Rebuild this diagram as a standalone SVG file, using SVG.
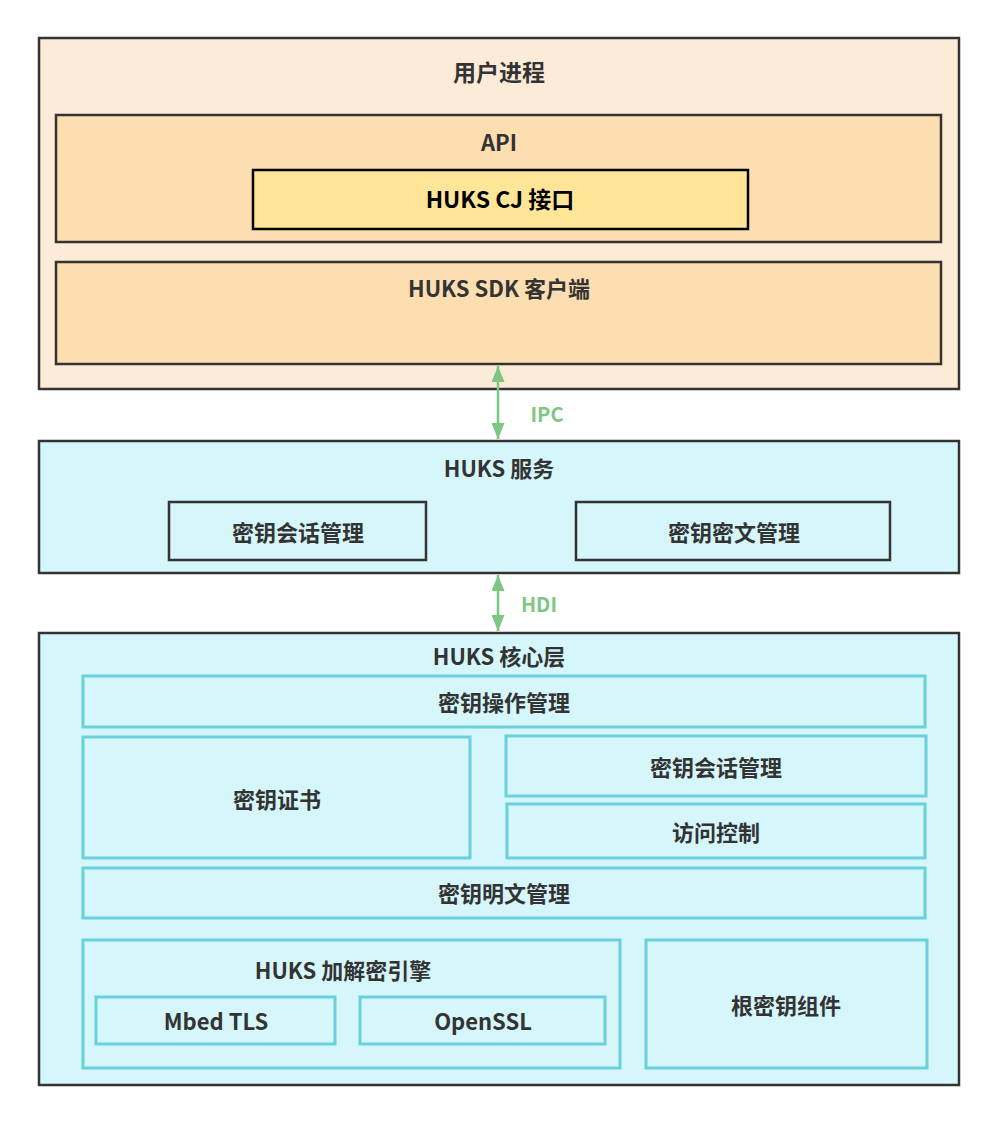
<svg xmlns="http://www.w3.org/2000/svg" width="998" height="1125" viewBox="0 0 998 1125">
<style>
text{font-family:"Noto Sans CJK SC","Noto Sans",sans-serif;font-weight:bold;font-size:22px;fill:#333;text-anchor:middle;dominant-baseline:central}
.outer{stroke:#333;stroke-width:2.5}
.dark{stroke:#333;stroke-width:2.5}
.cyan{fill:#d5f6fa;stroke:#6ad0dc;stroke-width:3}
</style>
<defs>
<marker id="ah" viewBox="0 0 10 10" refX="10" refY="5" markerWidth="16" markerHeight="13" orient="auto-start-reverse" markerUnits="userSpaceOnUse" preserveAspectRatio="none">
<path d="M0,0 L10,5 L0,10 z" fill="#7dc783"/>
</marker>
</defs>
<rect width="998" height="1125" fill="#fff"/>
<g id="user-process">
<rect class="outer" x="39" y="38" width="920" height="351" fill="#fcebd7"/>
<text x="499" y="71" style="font-size:23px">用户进程</text>
</g>
<g id="api">
<rect class="dark" x="56" y="115" width="885" height="127" fill="#fddeb0"/>
<text x="499" y="141">API</text>
</g>
<g id="cj">
<rect x="253" y="170" width="495" height="59" fill="#ffe598" stroke="#000" stroke-width="2.5"/>
<text x="500" y="198" style="fill:#000;font-size:23px">HUKS CJ 接口</text>
</g>
<g id="sdk">
<rect class="dark" x="56" y="262" width="885" height="102" fill="#fddeb0"/>
<text x="499" y="287">HUKS SDK 客户端</text>
</g>
<g id="service">
<rect class="outer" x="39" y="441" width="920" height="132" fill="#d5f6fa"/>
<text x="499" y="467">HUKS 服务</text>
</g>
<g id="svc-session">
<rect class="dark" x="169" y="502" width="257" height="58" fill="#d5f6fa"/>
<text x="298" y="531">密钥会话管理</text>
</g>
<g id="svc-cipher">
<rect class="dark" x="576" y="502" width="314" height="58" fill="#d5f6fa"/>
<text x="734" y="531">密钥密文管理</text>
</g>
<g id="core">
<rect class="outer" x="39" y="633" width="920" height="452" fill="#d5f6fa"/>
<text x="499" y="655">HUKS 核心层</text>
</g>
<g id="op-mgmt">
<rect class="cyan" x="83" y="676" width="842" height="51"/>
<text x="504" y="701">密钥操作管理</text>
</g>
<g id="cert">
<rect class="cyan" x="83" y="737" width="387" height="121"/>
<text x="277" y="798">密钥证书</text>
</g>
<g id="core-session">
<rect class="cyan" x="506" y="736" width="420" height="60"/>
<text x="716" y="766">密钥会话管理</text>
</g>
<g id="access">
<rect class="cyan" x="507" y="804" width="418" height="54"/>
<text x="716" y="831">访问控制</text>
</g>
<g id="plain">
<rect class="cyan" x="83" y="868" width="842" height="50"/>
<text x="504" y="892">密钥明文管理</text>
</g>
<g id="engine">
<rect class="cyan" x="83" y="940" width="537" height="128"/>
<text x="343" y="969">HUKS 加解密引擎</text>
</g>
<g id="mbed">
<rect class="cyan" x="96" y="997" width="239" height="47"/>
<text x="216" y="1020">Mbed TLS</text>
</g>
<g id="openssl">
<rect class="cyan" x="360" y="997" width="245" height="47"/>
<text x="483" y="1020">OpenSSL</text>
</g>
<g id="rootkey">
<rect class="cyan" x="646" y="940" width="281" height="128"/>
<text x="786" y="1004">根密钥组件</text>
</g>
<g id="connectors" stroke="#7dc783" stroke-width="2.5" fill="none">
<line x1="498" y1="366" x2="498" y2="439" marker-start="url(#ah)" marker-end="url(#ah)"/>
<line x1="498" y1="575" x2="498" y2="631" marker-start="url(#ah)" marker-end="url(#ah)"/>
<text x="547" y="413" stroke="none" style="font-size:20px;fill:#7dc783">IPC</text>
<text x="539" y="603" stroke="none" style="font-size:20px;fill:#7dc783">HDI</text>
</g>
</svg>
